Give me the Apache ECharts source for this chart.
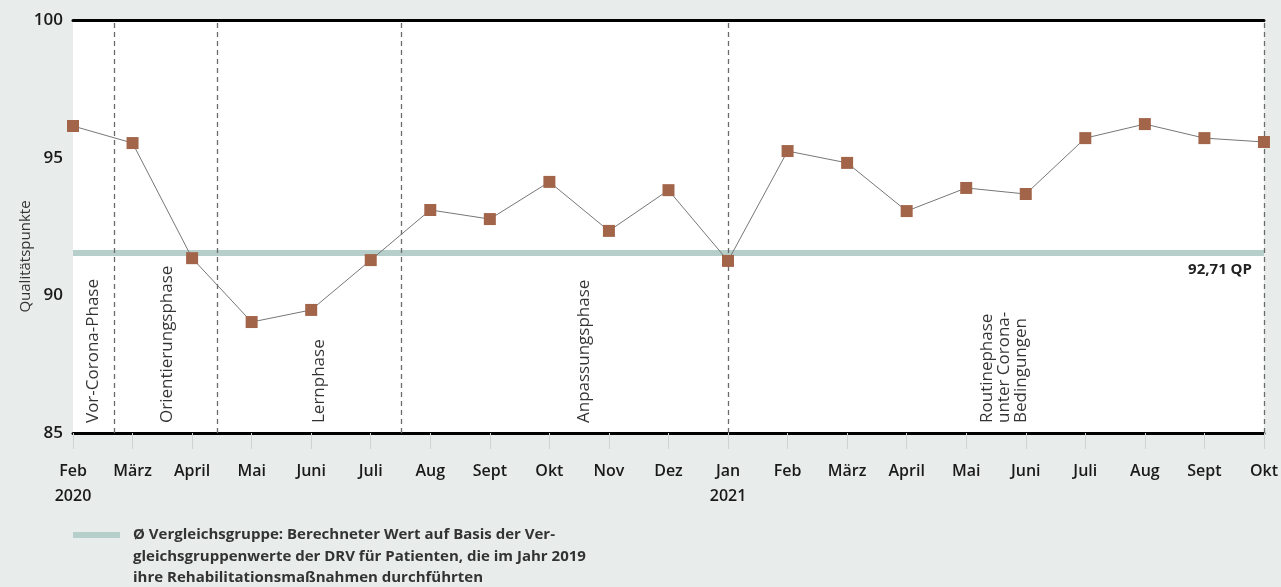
<!DOCTYPE html>
<html>
<head>
<meta charset="utf-8">
<script src="https://cdn.jsdelivr.net/npm/echarts@6/dist/echarts.min.js"></script>
<style>
  html, body { margin: 0; padding: 0; background: #e8eceb; }
  #chart { width: 1281px; height: 587px; }
</style>
</head>
<body>
<div id="chart"></div>
<script>
  // Monate (Feb 2020 bis Okt 2021)
  var months = ['Feb\n2020', 'März', 'April', 'Mai', 'Juni', 'Juli', 'Aug', 'Sept', 'Okt', 'Nov', 'Dez',
    'Jan\n2021', 'Feb', 'März', 'April', 'Mai', 'Juni', 'Juli', 'Aug', 'Sept', 'Okt']
  var qpValues = [96.15, 95.53, 91.35, 89.03, 89.47, 91.28, 93.1, 92.77, 94.12, 92.34, 93.82,
    91.25, 95.24, 94.81, 93.06, 93.9, 93.68, 95.71, 96.22, 95.71, 95.57]
  var yTicks = [85, 90, 95, 100]
  // Vergleichsgruppe
  var refValue = 91.55
  var refLabel = '92,71 QP'
  var legendText = 'Ø Vergleichsgruppe: Berechneter Wert auf Basis der Ver-\ngleichsgruppenwerte der DRV für Patienten, die im Jahr 2019\nihre Rehabilitationsmaßnahmen durchführten'
  // Phasengrenzen (in Monatsindex) und Phasenbeschriftungen
  var phaseBounds = [0.7, 2.43, 5.52, 11, 20]
  var phaseNames = ['Vor-Corona-Phase', 'Orientierungsphase', 'Lernphase', 'Anpassungsphase', 'Routinephase\nunter Corona-\nBedingungen']
  var phaseCenters = [0.34, 1.58, 4.14, 8.59, 15.64]

  var font = '"Open Sans", sans-serif'
  var chart = echarts.init(document.getElementById('chart'))

  var option = {
    backgroundColor: '#e8eceb',
    animation: false,
    grid: {
      left: 73, right: 16, top: 20, bottom: 154,
      show: true, backgroundColor: '#ffffff', borderWidth: 0
    },
    xAxis: [{
      type: 'value',
      min: 0, max: months.length - 1, interval: 1,
      splitLine: {show: false},
      axisLine: {lineStyle: {color: '#000', width: 3}},
      axisTick: {show: true, length: 16, lineStyle: {color: '#cfd3d2', width: 1}},
      axisLabel: {
        margin: 26,
        color: '#1a1a1a',
        fontFamily: font,
        fontSize: 16,
        fontWeight: 600,
        lineHeight: 25,
        verticalAlign: 'top',
        showMinLabel: true,
        showMaxLabel: true,
        formatter: function (v) { return months[Math.round(v)] }
      }
    }, {
      type: 'value',
      position: 'top',
      min: 0, max: months.length - 1,
      splitLine: {show: false},
      axisLine: {show: true, lineStyle: {color: '#000', width: 3}},
      axisTick: {show: false},
      axisLabel: {show: false}
    }],
    yAxis: {
      type: 'value',
      min: yTicks[0], max: yTicks[yTicks.length - 1], interval: 5,
      name: 'Qualitätspunkte',
      nameLocation: 'middle',
      nameGap: 40,
      nameMoveOverlap: false,
      nameTextStyle: {color: '#333', fontFamily: font, fontSize: 15, padding: [0, 60, 0, 0]},
      splitLine: {show: false},
      axisLine: {show: false},
      axisTick: {show: false},
      axisLabel: {color: '#1a1a1a', fontFamily: font, fontSize: 17, fontWeight: 600, margin: 10}
    },
    graphic: [
      {type: 'rect', left: 73, top: 532, shape: {width: 47, height: 6}, style: {fill: '#b7cfcb'}},
      {type: 'text', left: 133, top: 524, style: {
        text: legendText, fill: '#333', font: 'bold 15px "Open Sans", sans-serif', lineHeight: 21.5
      }}
    ],
    series: [
      {
        type: 'line',
        data: qpValues.map(function (v, i) { return [i, v] }),
        symbol: 'rect',
        symbolSize: 12,
        z: 5,
        lineStyle: {color: '#777', width: 1},
        itemStyle: {color: '#a2654a'},
        markLine: {
          silent: true,
          symbol: 'none',
          data: [{
            yAxis: refValue,
            lineStyle: {color: '#b7cfcb', width: 6, type: 'solid'},
            label: {
              show: true, position: 'insideEndBottom', distance: [12, 10],
              formatter: refLabel, color: '#222', fontFamily: font, fontSize: 15, fontWeight: 'bold'
            }
          }].concat(phaseBounds.map(function (b) {
            return {
              xAxis: b,
              lineStyle: {color: '#6b6b6b', width: 1.3, type: [5, 4]},
              label: {show: false}
            }
          }))
        }
      },
      {
        type: 'scatter',
        symbolSize: 0,
        silent: true,
        data: phaseCenters.map(function (c, i) { return {value: [c, yTicks[0]], name: phaseNames[i]} }),
        label: {
          show: true,
          position: [0, -10],
          rotate: 90,
          align: 'left',
          verticalAlign: 'middle',
          color: '#000',
          fontFamily: font,
          fontSize: 17,
          fontWeight: 500,
          lineHeight: 17,
          formatter: function (p) { return p.name }
        }
      }
    ]
  }
  chart.setOption(option)
</script>
</body>
</html>
